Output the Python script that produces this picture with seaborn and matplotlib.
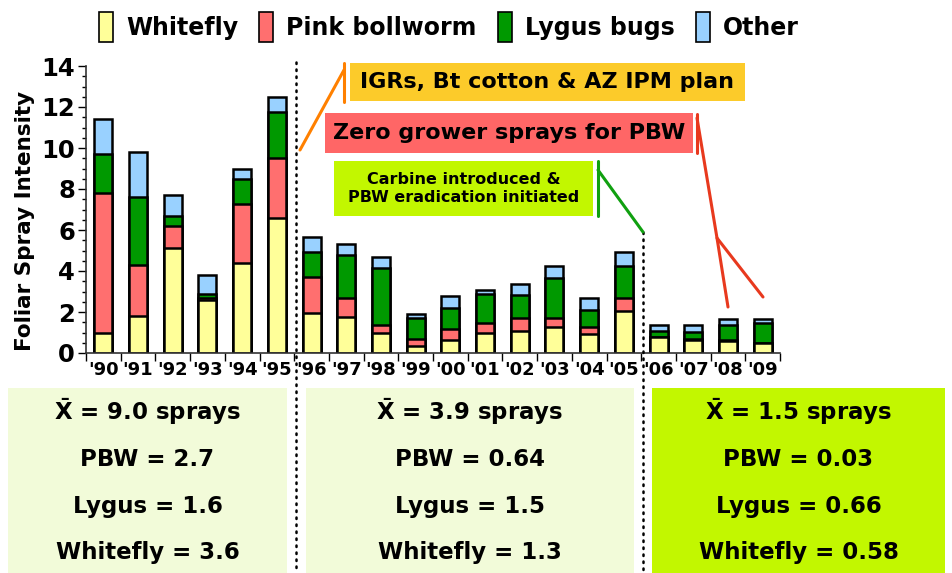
import seaborn as sns
import pandas as pd
import numpy as np
import matplotlib.pyplot as plt
from matplotlib.patches import Rectangle
from matplotlib.lines import Line2D
from matplotlib.ticker import MultipleLocator, FixedLocator

years = ["'90", "'91", "'92", "'93", "'94", "'95", "'96", "'97", "'98", "'99",
         "'00", "'01", "'02", "'03", "'04", "'05", "'06", "'07", "'08", "'09"]
whitefly = [1.0, 1.8, 5.1, 2.6, 4.4, 6.6, 1.95, 1.77, 1.0, 0.36,
            0.63, 1.0, 1.05, 1.26, 0.92, 2.03, 0.76, 0.65, 0.6, 0.49]
pink_bollworm = [6.8, 2.5, 1.1, 0.1, 2.87, 2.9, 1.74, 0.9, 0.38, 0.34,
                 0.55, 0.46, 0.68, 0.44, 0.33, 0.64, 0.04, 0.02, 0.02, 0.02]
lygus = [1.92, 3.32, 0.5, 0.2, 1.21, 2.28, 1.23, 2.11, 2.75, 1.03,
         1.01, 1.41, 1.11, 1.95, 0.86, 1.59, 0.26, 0.35, 0.76, 0.95]
other = [1.7, 2.2, 0.99, 0.91, 0.51, 0.7, 0.76, 0.52, 0.54, 0.17,
         0.6, 0.18, 0.51, 0.6, 0.55, 0.65, 0.31, 0.36, 0.29, 0.21]

series = ['Whitefly', 'Pink bollworm', 'Lygus bugs', 'Other']
colors = ['#ffff99', '#ff6f6f', '#009900', '#99d1ff']

summary_titles = [r'$\mathbf{\bar{X}}$ = 9.0 sprays', r'$\mathbf{\bar{X}}$ = 3.9 sprays',
                  r'$\mathbf{\bar{X}}$ = 1.5 sprays']
summary_pbw = ['PBW = 2.7', 'PBW = 0.64', 'PBW = 0.03']
summary_lygus = ['Lygus = 1.6', 'Lygus = 1.5', 'Lygus = 0.66']
summary_whitefly = ['Whitefly = 3.6', 'Whitefly = 1.3', 'Whitefly = 0.58']

df = pd.DataFrame({'year': years, 'Whitefly': whitefly, 'Pink bollworm': pink_bollworm,
                   'Lygus bugs': lygus, 'Other': other})
cum = df[series].cumsum(axis=1)

sns.set_style('white')
plt.rcParams['font.family'] = ['DejaVu Sans']
plt.rcParams['font.weight'] = 'bold'
plt.rcParams['mathtext.fontset'] = 'dejavusans'
for k in ['text.color', 'axes.labelcolor', 'xtick.color', 'ytick.color']:
    plt.rcParams[k] = 'black'

W, H = 953, 573
fig = plt.figure(figsize=(W / 100, H / 100), dpi=100)


def fx(px):
    return px / W


def fy(py):
    return 1 - py / H


ax = fig.add_axes([fx(86), fy(353), fx(780) - fx(86), fy(66) - fy(353)])

# stacked bars: draw cumulative totals from the top layer down
for name, col in reversed(list(zip(series, colors))):
    sns.barplot(x=df['year'], y=cum[name], color=col, width=0.52,
                edgecolor='black', linewidth=1.8, ax=ax, saturation=1)

ax.set_ylim(0, 14)
ax.set_xlim(-0.5, len(years) - 0.5)
ax.yaxis.set_major_locator(MultipleLocator(2))
ax.yaxis.set_minor_locator(MultipleLocator(0.5))
ax.xaxis.set_minor_locator(FixedLocator(np.arange(-0.5, len(years), 1)))
ax.tick_params(axis='y', which='major', direction='out', length=6, width=1, labelsize=17.5, pad=2, left=True)
ax.tick_params(axis='y', which='minor', direction='out', length=3, width=1, left=True)
ax.tick_params(axis='x', which='major', length=0, labelsize=13, pad=6)
ax.tick_params(axis='x', which='minor', direction='out', length=6, width=1, bottom=True)
for lab in ax.get_xticklabels() + ax.get_yticklabels():
    lab.set_fontweight('bold')
ax.set_xlabel('')
ax.set_ylabel('Foliar Spray Intensity', fontsize=15.5, fontweight='bold')
ax.yaxis.set_label_coords(-0.074, 0.46)
sns.despine(ax=ax)
for sp in ['left', 'bottom']:
    ax.spines[sp].set_color('#333333')
    ax.spines[sp].set_linewidth(1.2)

# legend
handles = [Rectangle((0, 0), 1, 1, fc=c, ec='black', lw=1.2) for c in colors]
fig.legend(handles, series, loc='center', bbox_to_anchor=(fx(449), fy(27)), ncol=4,
           frameon=False, prop={'size': 17, 'weight': 'bold'}, handlelength=0.6,
           handleheight=1.6, handletextpad=0.55, columnspacing=0.9)

# summary panels
panels = [(8, 287, '#f2fbd9'), (306, 634, '#f2fbd9'), (652, 945, '#c2f700')]
for i, (x0, x1, fc) in enumerate(panels):
    fig.patches.append(Rectangle((fx(x0), fy(573)), fx(x1) - fx(x0), fy(388) - fy(573),
                                 transform=fig.transFigure, fc=fc, ec='none', zorder=0))
    cx = fx((x0 + x1) / 2)
    for txt, py in zip([summary_titles[i], summary_pbw[i], summary_lygus[i], summary_whitefly[i]],
                       [412, 460, 507, 553]):
        fig.text(cx, fy(py), txt, ha='center', va='center', fontsize=16.5, fontweight='bold')

# dotted separators
fig.add_artist(Line2D([fx(296), fx(296)], [fy(62), fy(573)], transform=fig.transFigure,
                      color='black', lw=1.8, linestyle=(0, (0.6, 2.2)), dash_capstyle='round'))
fig.add_artist(Line2D([fx(643), fx(643)], [fy(232), fy(573)], transform=fig.transFigure,
                      color='black', lw=1.8, linestyle=(0, (0.6, 2.2)), dash_capstyle='round'))

# annotation boxes
notes = [
    (350, 745, 63, 101, '#fccb2a', 'IGRs, Bt cotton & AZ IPM plan', 16),
    (325, 693, 113, 153, '#ff6666', 'Zero grower sprays for PBW', 16),
    (334, 593, 161, 216, '#c2f700', 'Carbine introduced &\nPBW eradication initiated', 11.5),
]
for x0, x1, y0, y1, fc, txt, fs in notes:
    fig.patches.append(Rectangle((fx(x0), fy(y1)), fx(x1) - fx(x0), fy(y0) - fy(y1),
                                 transform=fig.transFigure, fc=fc, ec='none', zorder=3))
    fig.text(fx((x0 + x1) / 2), fy((y0 + y1) / 2), txt, ha='center', va='center',
             fontsize=fs, fontweight='bold', linespacing=1.3, zorder=4)


def seg(points, color):
    xs = [fx(p[0]) for p in points]
    ys = [fy(p[1]) for p in points]
    fig.add_artist(Line2D(xs, ys, transform=fig.transFigure, color=color, lw=2.2, zorder=5))


seg([(344, 63), (344, 102)], '#ff8000')
seg([(344, 70), (300, 150)], '#ff8000')
seg([(697, 114), (697, 153)], '#e8391e')
seg([(697, 118), (717, 238), (728, 307)], '#e8391e')
seg([(717, 238), (763, 297)], '#e8391e')
seg([(598, 161), (598, 216)], '#10a010')
seg([(598, 170), (643, 232)], '#10a010')

fig.savefig('out.png', dpi=100)
